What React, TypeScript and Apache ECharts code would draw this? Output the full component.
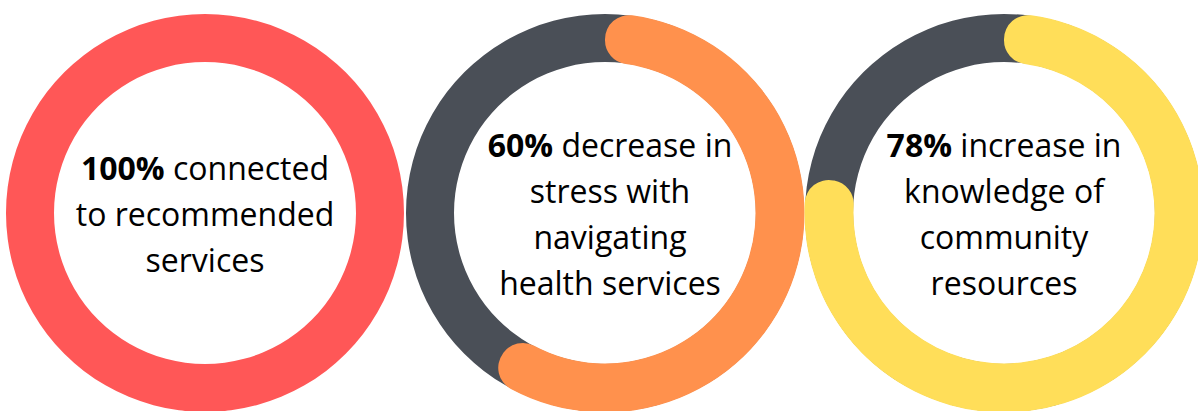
import React, { useEffect, useRef } from "react";
import * as echarts from "echarts";

const percents = [100, 60, 78];
const boldLabels = ["100%", "60%", "78%"];
const restLines = [
  [" connected", "to recommended", "services"],
  [" decrease in", "stress with", "navigating", "health services"],
  [" increase in", "knowledge of", "community", "resources"],
];
const ringColors = ["#FF5757", "#FF914D", "#FFDE59"];
const trackColor = "#4A4F57";
const centersX = [205, 605, 1004];
const centerY = 213;
const textOffsetX = [0, 5, 0];

export default function App() {
  const ref = useRef<HTMLDivElement>(null);
  useEffect(() => {
    if (!ref.current) return;
    const chart = echarts.init(ref.current, null, { renderer: "svg" });
    const series: any[] = [];
    const graphic: any[] = [];
    percents.forEach((p, i) => {
      const center = [centersX[i], centerY];
      series.push({
        type: "pie",
        silent: true,
        center,
        radius: [151, 199],
        startAngle: 90,
        label: { show: false },
        labelLine: { show: false },
        emphasis: { disabled: true },
        data: [{ value: 1, itemStyle: { color: p >= 100 ? ringColors[i] : trackColor } }],
      });
      if (p < 100) {
        series.push({
          type: "pie",
          silent: true,
          center,
          radius: [150.5, 199.5],
          startAngle: 90,
          clockwise: true,
          label: { show: false },
          labelLine: { show: false },
          emphasis: { disabled: true },
          data: [
            { value: p, itemStyle: { color: ringColors[i], borderRadius: 24 } },
            { value: 100 - p, itemStyle: { color: "rgba(0,0,0,0)" } },
          ],
        });
      }
      const lines = restLines[i];
      const text = "{b|" + boldLabels[i] + "}{n|" + lines[0] + "}\n" + lines.slice(1).map((l) => "{n|" + l + "}").join("\n");
      graphic.push({
        type: "text",
        x: centersX[i] + textOffsetX[i],
        y: centerY,
        silent: true,
        style: {
          text,
          align: "center",
          verticalAlign: "middle",
          fill: "#000",
          rich: {
            b: { fontFamily: "Open Sans", fontWeight: "bold", fontSize: 32, lineHeight: 46, fill: "#000" },
            n: { fontFamily: "Open Sans", fontWeight: "normal", fontSize: 32, lineHeight: 46, fill: "#000" },
          },
        },
      });
    });
    chart.setOption({
      animation: false,
      backgroundColor: "#ffffff",
      series,
      graphic,
    });
    return () => chart.dispose();
  }, []);
  return (
    <div
      ref={ref}
      style={{ position: "fixed", left: 0, top: 0, width: 1198, height: 411 }}
    />
  );
}
